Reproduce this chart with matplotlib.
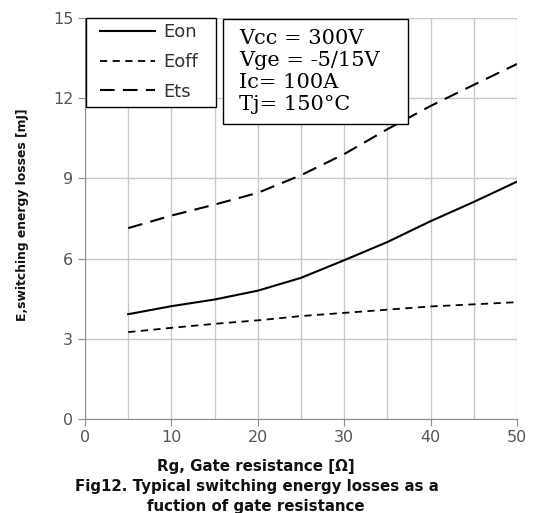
import numpy as np
import matplotlib
matplotlib.use('Agg')
import matplotlib.pyplot as plt
import matplotlib.patches as patches
from matplotlib.ticker import MultipleLocator
from matplotlib.lines import Line2D
from matplotlib.legend_handler import HandlerLine2D

# dati (Rg in ohm, energie in mJ)
rg = [5, 10, 15, 20, 25, 30, 35, 40, 45, 50]
eon = [3.92, 4.22, 4.47, 4.80, 5.28, 5.94, 6.62, 7.40, 8.12, 8.88]
eoff = [3.25, 3.41, 3.56, 3.69, 3.85, 3.97, 4.09, 4.21, 4.29, 4.37]
ets = [7.14, 7.61, 8.02, 8.46, 9.12, 9.91, 10.84, 11.71, 12.50, 13.28]

series_labels = ['Eon', 'Eoff', 'Ets']
cond_lines = ['Vcc = 300V', 'Vge = -5/15V', 'Ic= 100A', 'Tj= 150°C']
x_label = 'Rg, Gate resistance [Ω]'
y_label = 'E,switching energy losses [mJ]'
caption = ['Fig12. Typical switching energy losses as a',
           'fuction of gate resistance']

fig = plt.figure(figsize=(5.33, 5.13), dpi=100)
ax = fig.add_axes([85 / 533, 1 - 419 / 513, 432 / 533, 401 / 513])

# curve
ax.plot(rg, eon, color='black', lw=1.5, label=series_labels[0])
ax.plot(rg, eoff, color='black', lw=1.3, linestyle=(0, (4, 3)), label=series_labels[1])
ax.plot(rg, ets, color='black', lw=1.5, linestyle=(0, (7, 4)), label=series_labels[2])

# assi e griglia
ax.set_xlim(0, 50)
ax.set_ylim(0, 15)
ax.xaxis.set_major_locator(MultipleLocator(10))
ax.xaxis.set_minor_locator(MultipleLocator(5))
ax.yaxis.set_major_locator(MultipleLocator(3))
ax.grid(True, which='both', axis='x', color='#c8c8c8', lw=1)
ax.grid(True, which='major', axis='y', color='#c8c8c8', lw=1)
ax.set_axisbelow(True)
for s in ['top', 'right']:
    ax.spines[s].set_visible(False)
for s in ['left', 'bottom']:
    ax.spines[s].set_color('#8c8c8c')
ax.tick_params(axis='both', which='major', direction='out', length=5, color='#8c8c8c',
               labelcolor='#555555', labelsize=11.5)
ax.tick_params(axis='x', which='minor', length=0)
ax.tick_params(axis='x', pad=3)

# cornice della legenda (disegnata a parte per avere i margini giusti)
ax.add_patch(patches.Rectangle((0.0023, 0.778), 0.301, 0.222, transform=ax.transAxes,
                               facecolor='white', edgecolor='black', lw=1.0,
                               zorder=4.5, clip_on=False))
leg = ax.legend(loc='upper left', bbox_to_anchor=(0.0, 1.0), borderaxespad=0,
                frameon=False, fontsize=13,
                handlelength=3.6, handletextpad=0.45, labelspacing=0.64,
                borderpad=0.3, handler_map={Line2D: HandlerLine2D(xpad=0.55)})
for t in leg.get_texts():
    t.set_color('#333333')

# riquadro condizioni di prova
ax.add_patch(patches.Rectangle((0.3188, 0.7357), 0.4289, 0.2618, transform=ax.transAxes,
                               facecolor='white', edgecolor='black', lw=1.0,
                               zorder=4.5, clip_on=False))
ax.text(0.3565, 0.972, '\n'.join(cond_lines), transform=ax.transAxes, va='top', ha='left',
        family='DejaVu Serif', fontsize=15, linespacing=1.2, zorder=5)

# etichette e didascalia
fig.text(23 / 533, 1 - 215 / 513, y_label, rotation=90, ha='center', va='center',
         family='DejaVu Sans', fontweight='bold', fontsize=8.9, color='#111111')
fig.text(256 / 533, 1 - 466 / 513, x_label, ha='center', va='center',
         family='DejaVu Sans', fontweight='bold', fontsize=10.8, color='#111111')
fig.text(257 / 533, 1 - 487 / 513, caption[0], ha='center', va='center',
         family='DejaVu Sans', fontweight='bold', fontsize=10.8, color='#111111')
fig.text(256 / 533, 1 - 506 / 513, caption[1], ha='center', va='center',
         family='DejaVu Sans', fontweight='bold', fontsize=10.8, color='#111111')

fig.savefig('out.png', dpi=100, facecolor='white')
